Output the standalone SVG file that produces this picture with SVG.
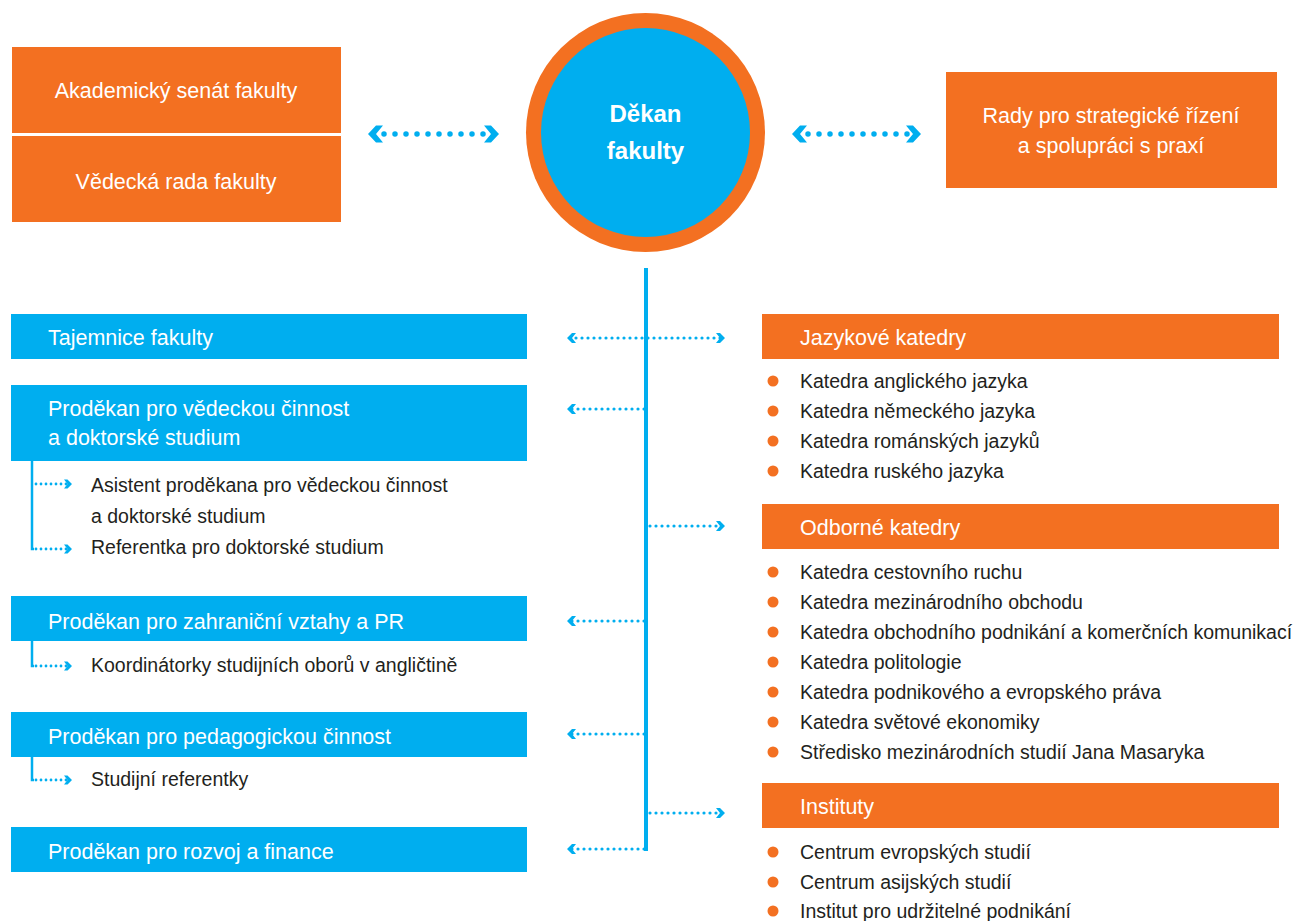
<svg xmlns="http://www.w3.org/2000/svg" width="1305" height="921" viewBox="0 0 1305 921">
<style>
.or{fill:#F37021}
.bl{fill:#00AEEF}
.wt{fill:#FFFFFF;font-family:"Liberation Sans",Arial,sans-serif;font-size:21.5px}
.wc{text-anchor:middle}
.dk{fill:#231F20;font-family:"Liberation Sans",Arial,sans-serif;font-size:19.5px}
.big{stroke:#00AEEF;stroke-width:5.5;stroke-linecap:round;stroke-dasharray:0 11;fill:none}
.mid{stroke:#00AEEF;stroke-width:3.2;stroke-linecap:round;stroke-dasharray:0 6;fill:none}
.sub{stroke:#00AEEF;stroke-width:2.8;stroke-linecap:round;stroke-dasharray:0 5;fill:none}
.vl{stroke:#00AEEF;stroke-width:4;fill:none}
.vs{stroke:#00AEEF;stroke-width:2.5;fill:none}
</style>
<defs>
<marker id="mBig" markerUnits="userSpaceOnUse" viewBox="-12 -10 18 20" refX="0" refY="0" markerWidth="18" markerHeight="20" orient="auto-start-reverse" overflow="visible">
<path d="M-10,-8.5 L-3,-8.5 L5,0 L-3,8.5 L-10,8.5 L-3,0 Z" fill="#00AEEF"/>
</marker>
<marker id="mMid" markerUnits="userSpaceOnUse" viewBox="-8 -6 12 12" refX="0" refY="0" markerWidth="12" markerHeight="12" orient="auto-start-reverse" overflow="visible">
<path d="M-6,-5 L-2,-5 L3,0 L-2,5 L-6,5 L-2,0 Z" fill="#00AEEF"/>
</marker>
<marker id="mSub" markerUnits="userSpaceOnUse" viewBox="-8 -6 12 12" refX="0" refY="0" markerWidth="12" markerHeight="12" orient="auto" overflow="visible">
<path d="M-5,-4.5 L-1.5,-4.5 L3,0 L-1.5,4.5 L-5,4.5 L-1.5,0 Z" fill="#00AEEF"/>
</marker>
</defs>

<g id="connectors">
<line class="big" x1="373" y1="134" x2="494" y2="134" marker-start="url(#mBig)" marker-end="url(#mBig)"/>
<line class="big" x1="797" y1="134" x2="916" y2="134" marker-start="url(#mBig)" marker-end="url(#mBig)"/>
<line class="vl" x1="646" y1="268" x2="646" y2="851"/>
<line class="mid" x1="570" y1="338" x2="722" y2="338" marker-start="url(#mMid)" marker-end="url(#mMid)"/>
<line class="mid" x1="644" y1="409" x2="570" y2="409" marker-end="url(#mMid)"/>
<line class="mid" x1="650" y1="526" x2="722" y2="526" marker-end="url(#mMid)"/>
<line class="mid" x1="644" y1="621" x2="570" y2="621" marker-end="url(#mMid)"/>
<line class="mid" x1="644" y1="734" x2="570" y2="734" marker-end="url(#mMid)"/>
<line class="mid" x1="650" y1="813" x2="722" y2="813" marker-end="url(#mMid)"/>
<line class="mid" x1="644" y1="849" x2="570" y2="849" marker-end="url(#mMid)"/>
<polyline class="vs" points="32,461 32,549 34,549"/>
<line class="sub" x1="36" y1="484" x2="69" y2="484" marker-end="url(#mSub)"/>
<line class="sub" x1="36" y1="549" x2="69" y2="549" marker-end="url(#mSub)"/>
<polyline class="vs" points="32,641 32,666 34,666"/>
<line class="sub" x1="36" y1="666" x2="69" y2="666" marker-end="url(#mSub)"/>
<polyline class="vs" points="32,757 32,780 34,780"/>
<line class="sub" x1="36" y1="780" x2="69" y2="780" marker-end="url(#mSub)"/>
</g>

<g id="senat">
<rect class="or" x="12" y="47" width="329" height="86"/>
<text class="wt wc" x="176" y="98">Akademický senát fakulty</text>
</g>
<g id="vedecka-rada">
<rect class="or" x="12" y="136" width="329" height="86"/>
<text class="wt wc" x="176" y="189">Vědecká rada fakulty</text>
</g>
<g id="dekan">
<circle cx="645.5" cy="132.5" r="119.5" fill="#F37021"/>
<circle cx="645.5" cy="132.5" r="104.5" fill="#00AEEF"/>
<text x="645.5" y="122" fill="#FFFFFF" font-family="Liberation Sans, Arial, sans-serif" font-size="24" font-weight="bold" text-anchor="middle">Děkan</text>
<text x="645.5" y="159" fill="#FFFFFF" font-family="Liberation Sans, Arial, sans-serif" font-size="24" font-weight="bold" text-anchor="middle">fakulty</text>
</g>
<g id="rady">
<rect class="or" x="946" y="72" width="331" height="116"/>
<text class="wt wc" x="1111" y="123">Rady pro strategické řízení</text>
<text class="wt wc" x="1111" y="153">a spolupráci s praxí</text>
</g>

<g id="tajemnice">
<rect class="bl" x="11" y="314" width="516" height="45"/>
<text class="wt" x="48" y="345">Tajemnice fakulty</text>
</g>
<g id="prodekan-veda">
<rect class="bl" x="11" y="385" width="516" height="76"/>
<text class="wt" x="48" y="416">Proděkan pro vědeckou činnost</text>
<text class="wt" x="48" y="445">a doktorské studium</text>
</g>
<g id="veda-sub">
<text class="dk" x="91" y="492">Asistent proděkana pro vědeckou činnost</text>
<text class="dk" x="91" y="523">a doktorské studium</text>
<text class="dk" x="91" y="554">Referentka pro doktorské studium</text>
</g>
<g id="prodekan-zahranici">
<rect class="bl" x="11" y="596" width="516" height="45"/>
<text class="wt" x="48" y="629">Proděkan pro zahraniční vztahy a PR</text>
</g>
<g id="zahranici-sub">
<text class="dk" x="91" y="672">Koordinátorky studijních oborů v angličtině</text>
</g>
<g id="prodekan-pedagog">
<rect class="bl" x="11" y="712" width="516" height="45"/>
<text class="wt" x="48" y="744">Proděkan pro pedagogickou činnost</text>
</g>
<g id="pedagog-sub">
<text class="dk" x="91" y="786">Studijní referentky</text>
</g>
<g id="prodekan-rozvoj">
<rect class="bl" x="11" y="827" width="516" height="45"/>
<text class="wt" x="48" y="859">Proděkan pro rozvoj a finance</text>
</g>

<g id="jazykove">
<rect class="or" x="762" y="314" width="517" height="45"/>
<text class="wt" x="800" y="345">Jazykové katedry</text>
<circle class="or" cx="773" cy="381" r="5.5"/><text class="dk" x="800" y="388">Katedra anglického jazyka</text>
<circle class="or" cx="773" cy="411" r="5.5"/><text class="dk" x="800" y="418">Katedra německého jazyka</text>
<circle class="or" cx="773" cy="441" r="5.5"/><text class="dk" x="800" y="448">Katedra románských jazyků</text>
<circle class="or" cx="773" cy="471" r="5.5"/><text class="dk" x="800" y="478">Katedra ruského jazyka</text>
</g>
<g id="odborne">
<rect class="or" x="762" y="504" width="517" height="45"/>
<text class="wt" x="800" y="535">Odborné katedry</text>
<circle class="or" cx="773" cy="572" r="5.5"/><text class="dk" x="800" y="579">Katedra cestovního ruchu</text>
<circle class="or" cx="773" cy="602" r="5.5"/><text class="dk" x="800" y="609">Katedra mezinárodního obchodu</text>
<circle class="or" cx="773" cy="632" r="5.5"/><text class="dk" x="800" y="639">Katedra obchodního podnikání a komerčních komunikací</text>
<circle class="or" cx="773" cy="662" r="5.5"/><text class="dk" x="800" y="669">Katedra politologie</text>
<circle class="or" cx="773" cy="692" r="5.5"/><text class="dk" x="800" y="699">Katedra podnikového a evropského práva</text>
<circle class="or" cx="773" cy="722" r="5.5"/><text class="dk" x="800" y="729">Katedra světové ekonomiky</text>
<circle class="or" cx="773" cy="752" r="5.5"/><text class="dk" x="800" y="759">Středisko mezinárodních studií Jana Masaryka</text>
</g>
<g id="instituty">
<rect class="or" x="762" y="783" width="517" height="45"/>
<text class="wt" x="800" y="814">Instituty</text>
<circle class="or" cx="773" cy="852" r="5.5"/><text class="dk" x="800" y="859">Centrum evropských studií</text>
<circle class="or" cx="773" cy="882" r="5.5"/><text class="dk" x="800" y="889">Centrum asijských studií</text>
<circle class="or" cx="773" cy="911" r="5.5"/><text class="dk" x="800" y="918">Institut pro udržitelné podnikání</text>
</g>
</svg>
